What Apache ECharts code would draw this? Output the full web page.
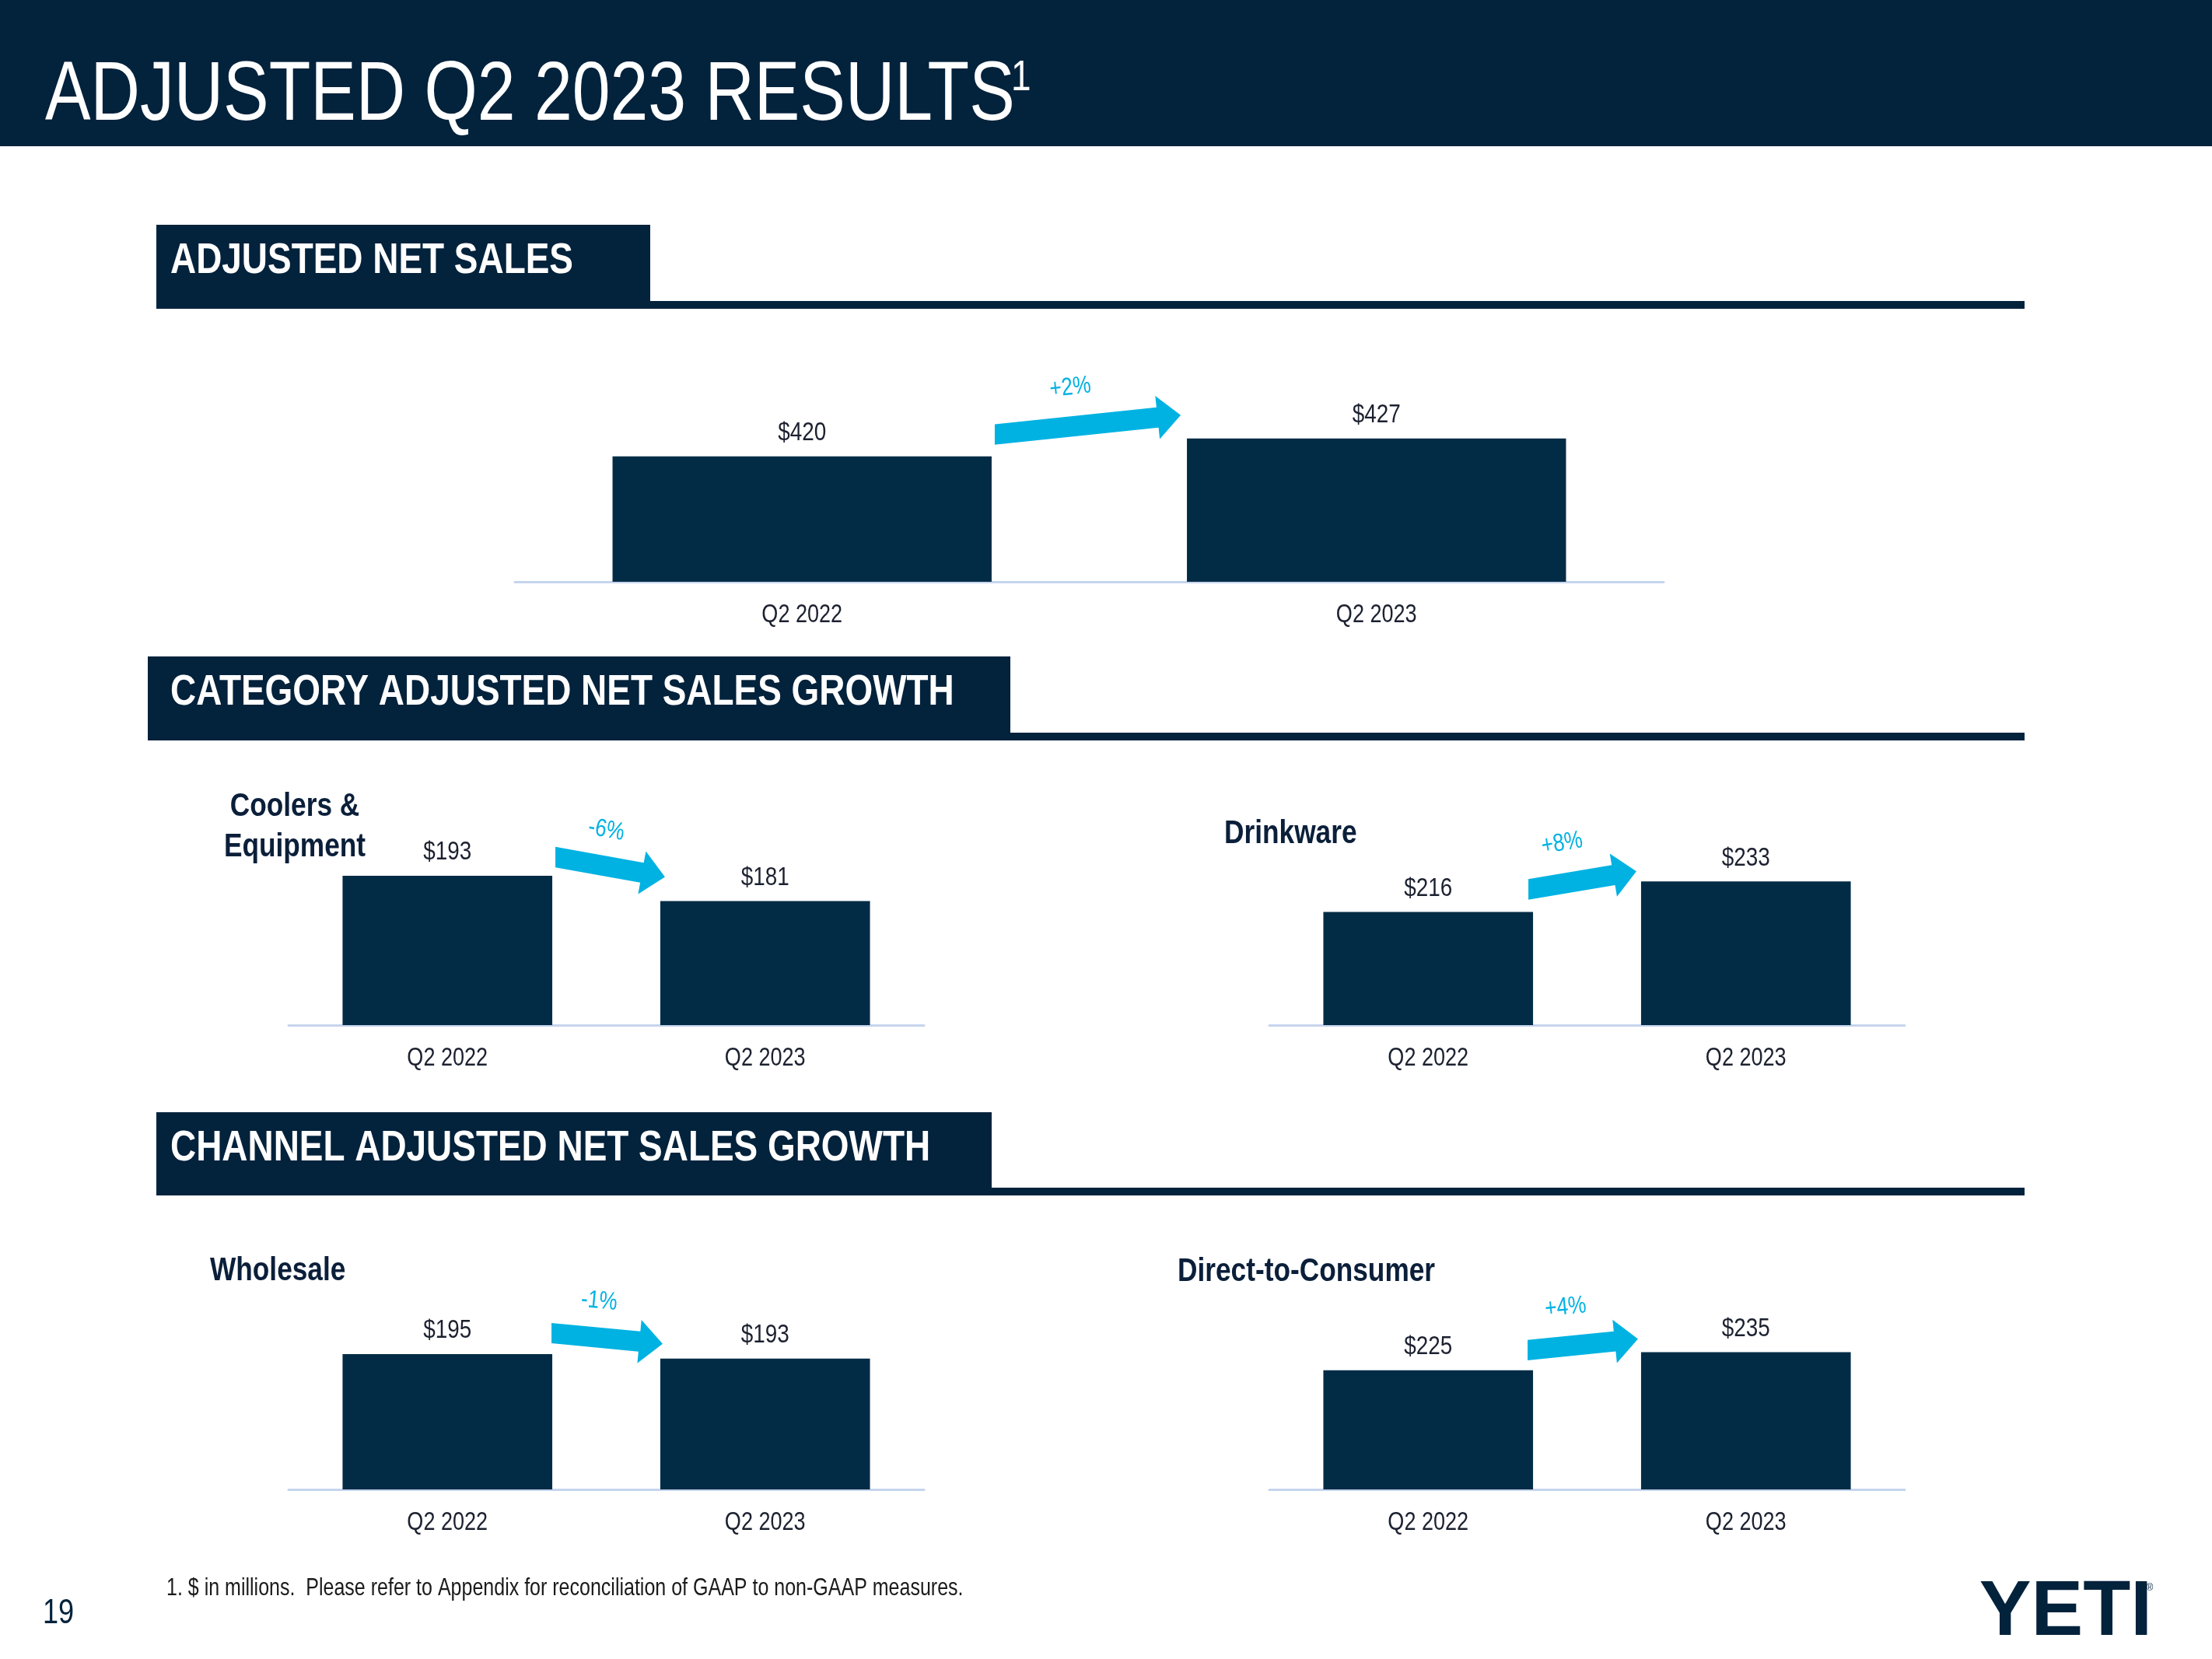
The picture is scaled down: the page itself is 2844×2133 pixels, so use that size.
<!DOCTYPE html>
<html>
<head>
<meta charset="utf-8">
<script src="https://cdn.jsdelivr.net/npm/echarts@6/dist/echarts.min.js"></script>
<style>
html,body{margin:0;padding:0;background:#fff;}
#c{width:2844px;height:2133px;}
</style>
</head>
<body>
<div id="c"></div>
<script>
// ---------------- DATA ----------------
const categories = ['Q2 2022', 'Q2 2023'];
const chartNames = ['Adjusted Net Sales', 'Coolers & Equipment', 'Drinkware', 'Wholesale', 'Direct-to-Consumer'];
const netSales = [420, 427];
const coolers = [193, 181];
const drinkware = [216, 233];
const wholesale = [195, 193];
const dtc = [225, 235];
const growthLabels = ['+2%', '-6%', '+8%', '-1%', '+4%'];
const yMin = [371, 122, 153, 133, 159];
const yMax = [460, 200, 240, 200, 240];

// ---------------- STYLE / LAYOUT ----------------
const FONT = "'Liberation Sans', Arial, sans-serif";
const CONDENSE = 0.82; // emulate Arial Narrow
const NAVY = '#03223c';
const BAR = '#022c46';
const CYAN = '#00b2e2';
const AXIS = '#c6d4ee';
const TXT = '#1c2130';

const grids = [
  {left: 662, top: 455, width: 1477, height: 293},
  {left: 371, top: 1107, width: 817, height: 211},
  {left: 1632, top: 1117, width: 817, height: 201},
  {left: 371, top: 1727, width: 817, height: 188},
  {left: 1632, top: 1727, width: 817, height: 188}
];
// arrow placement tweaks: [tailDX, tailUp, tipDX, tipUp]
const arrowTweak = [
  [4, 28, -8, 30],
  [4, 24, 6, 31],
  [-6, 29, -6, 13],
  [-1, 27, 3, 19],
  [-7, 26, -4, 17]
];
const seriesData = [netSales, coolers, drinkware, wholesale, dtc];

const chart = echarts.init(document.getElementById('c'), null, {renderer: 'canvas'});

const option = {
  backgroundColor: '#ffffff',
  animation: false,
  grid: grids.map(g => Object.assign({containLabel: false}, g)),
  xAxis: grids.map((g, i) => ({
    type: 'category', gridIndex: i, data: categories,
    axisTick: {show: false},
    axisLine: {show: true, lineStyle: {color: AXIS, width: 3}},
    axisLabel: {color: TXT, fontSize: 33, fontFamily: FONT, margin: 26, lineHeight: 33}
  })),
  yAxis: grids.map((g, i) => ({
    type: 'value', gridIndex: i, min: yMin[i], max: yMax[i], show: false,
    splitLine: {show: false}
  })),
  series: seriesData.map((d, i) => ({
    type: 'bar', name: chartNames[i], xAxisIndex: i, yAxisIndex: i, data: d,
    barWidth: '66%',
    itemStyle: {color: BAR},
    label: {show: true, position: 'top', distance: 13, color: TXT, fontSize: 34, lineHeight: 34,
      fontFamily: FONT, formatter: p => '$' + p.value}
  }))
};
chart.setOption(option);

// ---------------- STATIC GRAPHICS ----------------
const g = [];
g.push({type: 'rect', shape: {x: 0, y: 0, width: 2844, height: 188}, style: {fill: NAVY}});
g.push({type: 'text', x: 58, y: 124, style: {text: 'ADJUSTED Q2 2023 RESULTS', fill: '#fff', font: '107px ' + FONT, align: 'left', verticalAlign: 'middle'}});
g.push({type: 'text', x: 1300, y: 101, style: {text: '1', fill: '#fff', font: '56px ' + FONT, align: 'left', verticalAlign: 'middle'}});

const sections = [
  {text: 'ADJUSTED NET SALES', boxX: 201, boxR: 836, top: 289, bottom: 397},
  {text: 'CATEGORY ADJUSTED NET SALES GROWTH', boxX: 190, boxR: 1299, top: 844, bottom: 952},
  {text: 'CHANNEL ADJUSTED NET SALES GROWTH', boxX: 201, boxR: 1275, top: 1430, bottom: 1537}
];
sections.forEach(s => {
  g.push({type: 'rect', shape: {x: s.boxX, y: s.top, width: s.boxR - s.boxX, height: s.bottom - s.top}, style: {fill: NAVY}});
  g.push({type: 'rect', shape: {x: s.boxR, y: s.bottom - 10, width: 2603 - s.boxR, height: 10}, style: {fill: NAVY}});
  g.push({type: 'text', x: 219, y: s.top + 47, style: {text: s.text, fill: '#fff', font: 'bold 56px ' + FONT, align: 'left', verticalAlign: 'middle'}});
});

const subT = [
  {text: 'Coolers &', x: 379, y: 1037, align: 'center'},
  {text: 'Equipment', x: 379, y: 1089, align: 'center'},
  {text: 'Drinkware', x: 1574, y: 1072, align: 'left'},
  {text: 'Wholesale', x: 270, y: 1634, align: 'left'},
  {text: 'Direct-to-Consumer', x: 1514, y: 1635, align: 'left'}
];
subT.forEach(s => g.push({type: 'text', x: s.x, y: s.y, style: {text: s.text, fill: '#0b1f3a', font: 'bold 43px ' + FONT, align: s.align, verticalAlign: 'middle'}}));

g.push({type: 'text', x: 214, y: 2043, style: {text: '1. $ in millions.  Please refer to Appendix for reconciliation of GAAP to non-GAAP measures.', fill: '#1a1a1a', font: '30.5px ' + FONT, align: 'left', verticalAlign: 'middle'}});
g.push({type: 'text', x: 75, y: 2075, style: {text: '19', fill: NAVY, font: '44px ' + FONT, align: 'center', verticalAlign: 'middle'}});
g.push({type: 'text', name: 'keep', x: 2656, y: 2074, style: {text: 'YETI', fill: NAVY, font: '900 100px ' + FONT, align: 'center', verticalAlign: 'middle'}});
g.push({type: 'text', name: 'keep', x: 2764, y: 2042, style: {text: '®', fill: NAVY, font: '12px ' + FONT, align: 'center', verticalAlign: 'middle'}});

// arrows placed from the bar positions
seriesData.forEach((d, i) => {
  const band = grids[i].width / categories.length;
  const half = band * 0.66 / 2;
  const p1 = chart.convertToPixel({seriesIndex: i}, [0, d[0]]);
  const p2 = chart.convertToPixel({seriesIndex: i}, [1, d[1]]);
  const tw = arrowTweak[i];
  const T = [p1[0] + half + tw[0], p1[1] - tw[1]];
  const P = [p2[0] - half + tw[2], p2[1] - tw[3]];
  const dx = P[0] - T[0], dy = P[1] - T[1];
  const len = Math.sqrt(dx * dx + dy * dy);
  const u = [dx / len, dy / len];
  const n = [-u[1], u[0]];
  const s = 13, h = 28, L = 30;
  const sv = s / u[0];
  const B = [P[0] - u[0] * L, P[1] - u[1] * L];
  const pts = [
    [T[0], T[1] - sv],
    [B[0] - n[0] * s, B[1] - n[1] * s],
    [B[0] - n[0] * h, B[1] - n[1] * h],
    P,
    [B[0] + n[0] * h, B[1] + n[1] * h],
    [B[0] + n[0] * s, B[1] + n[1] * s],
    [T[0], T[1] + sv]
  ];
  g.push({type: 'polygon', shape: {points: pts}, style: {fill: CYAN}});
  // label above arrow, offset perpendicular to its direction
  const up = [u[1], -u[0]];
  const off = 48;
  const mx = (T[0] + P[0]) / 2 - 16 + up[0] * off * 1.3, my = (T[1] + P[1]) / 2 + up[1] * off;
  g.push({type: 'text', x: mx, y: my, rotation: -Math.atan2(dy, dx),
    style: {text: growthLabels[i], fill: CYAN, font: '32px ' + FONT, align: 'center', verticalAlign: 'middle'}});
});

chart.setOption({graphic: {elements: g}});

// condense every text horizontally (Arial Narrow look)
const zr = chart.getZr();
function walk(el) {
  if (!el) return;
  if (el.type === 'text' && el.name !== 'keep') {
    el.scaleX = CONDENSE;
    el.markRedraw();
  }
  if (el.isGroup) el.eachChild(walk);
  const tc = el.getTextContent && el.getTextContent();
  if (tc) walk(tc);
}
zr.storage.getRoots().forEach(walk);
zr.refreshImmediately();
</script>
</body>
</html>
